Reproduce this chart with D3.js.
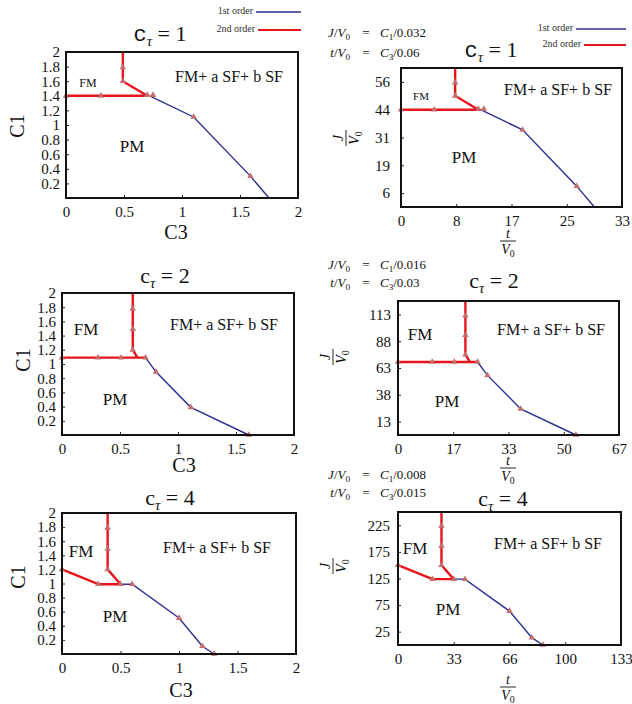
<!DOCTYPE html>
<html>
<head>
<meta charset="utf-8">
<script src="https://cdn.jsdelivr.net/npm/d3@7"></script>
<style>
  body { margin: 0; background: #fff; }
  svg { display: block; }
</style>
</head>
<body>
<svg id="chart" width="632" height="704"></svg>
<script>
// ---------- tick values (model units C3, C1) and their printed labels ----------
const c3Ticks = [0, 0.5, 1, 1.5, 2];
const c3TickText = ["0", "0.5", "1", "1.5", "2"];
const c1Ticks = [0.2, 0.4, 0.6, 0.8, 1, 1.2, 1.4, 1.6, 1.8, 2];
const c1TickText = ["0.2", "0.4", "0.6", "0.8", "1", "1.2", "1.4", "1.6", "1.8", "2"];
const c1RatioTicks = [0.2, 0.6, 1.0, 1.4, 1.8];

const tau1RatioXText = ["0", "8", "17", "25", "33"];
const tau1RatioYText = ["6", "19", "31", "44", "56"];
const tau2RatioXText = ["0", "17", "33", "50", "67"];
const tau2RatioYText = ["13", "38", "63", "88", "113"];
const tau4RatioXText = ["0", "33", "66", "100", "133"];
const tau4RatioYText = ["25", "75", "125", "175", "225"];

// conversion constants: J/V0 = C1/k1, t/V0 = C3/k3
const tau1K = { k1: 0.032, k3: 0.06 };
const tau2K = { k1: 0.016, k3: 0.03 };
const tau4K = { k1: 0.008, k3: 0.015 };

// ---------- phase boundaries, points are [C3, C1] ----------
// c_tau = 1
const tau1Second = [
  [[0.49, 2.0], [0.49, 1.6], [0.70, 1.4]],
  [[0.0, 1.4], [0.72, 1.4]]
];
const tau1First = [[0.72, 1.4], [1.10, 1.11], [1.59, 0.30], [1.75, 0.0]];
const tau1Marks = [[0, 1.4], [0.30, 1.4], [0.70, 1.41], [0.75, 1.41],
                   [0.49, 1.79], [0.49, 1.6], [1.10, 1.11], [1.59, 0.30]];

// c_tau = 2
const tau2Second = [
  [[0.61, 2.0], [0.61, 1.2], [0.65, 1.09]],
  [[0.0, 1.09], [0.72, 1.09]]
];
const tau2First = [[0.72, 1.09], [0.81, 0.89], [1.11, 0.39], [1.61, 0.0]];
const tau2Marks = [[0, 1.09], [0.31, 1.09], [0.51, 1.09], [0.72, 1.09],
                   [0.61, 1.78], [0.61, 1.49], [0.61, 1.2],
                   [0.81, 0.89], [1.11, 0.39], [1.61, 0.0]];

// c_tau = 4
const tau4Second = [
  [[0.39, 2.0], [0.39, 1.2], [0.50, 0.99]],
  [[0.0, 1.2], [0.31, 0.99], [0.50, 0.99]]
];
const tau4First = [[0.50, 0.99], [0.60, 0.99], [1.0, 0.51], [1.2, 0.11], [1.3, 0.0]];
const tau4Marks = [[0, 1.2], [0.31, 0.99], [0.50, 0.99], [0.60, 0.99],
                   [0.39, 1.79], [0.39, 1.49], [0.39, 1.2],
                   [1.0, 0.51], [1.2, 0.11], [1.3, 0.0]];

// ---------- styling ----------
const SERIF = "Liberation Serif, Times New Roman, DejaVu Serif, serif";
const MONO = "Liberation Mono, DejaVu Sans Mono, monospace";
const BLUE = "#2c2f8f";
const RED = "#e8141c";
const MARK = "#c46e6e";

const svg = d3.select("#chart");

// ---------- panel layouts ----------
const panels = [
  { tau: "1", mono: true, frame: { l: 66, r: 298, t: 52, b: 198 },
    xText: c3TickText, yTicks: c1Ticks, yText: c1TickText, yPad: 6,
    second: tau1Second, first: tau1First, marks: tau1Marks,
    title: [160, 41], axisC: { c1: [17, 126], c3: [176, 239] },
    legend: { right: 301, y1: 12, y2: 30, end1: 253, end2: 255 },
    regions: [["FM", 88, 87, 12], ["FM+ a SF+ b SF", 229, 82, 16], ["PM", 132, 152, 17]] },
  { tau: "1", mono: true, frame: { l: 401, r: 622, t: 68, b: 207 }, ...tau1K,
    xText: tau1RatioXText, yTicks: c1RatioTicks, yText: tau1RatioYText, yPad: 11,
    second: tau1Second, first: tau1First, marks: tau1Marks,
    title: [491, 57], ratio: { xf: [508, 241], yf: [346, 138], eq: [37, 57] },
    legend: { right: 626, y1: 29, y2: 45, end1: 573, end2: 581 },
    regions: [["FM", 421, 100, 11], ["FM+ a SF+ b SF", 558, 95, 16], ["PM", 464, 163, 17]] },
  { tau: "2", mono: false, frame: { l: 62, r: 294, t: 293, b: 435 },
    xText: c3TickText, yTicks: c1Ticks, yText: c1TickText, yPad: 6,
    second: tau2Second, first: tau2First, marks: tau2Marks,
    title: [165, 283], axisC: { c1: [23, 360], c3: [184, 472] },
    regions: [["FM", 86, 335, 17], ["FM+ a SF+ b SF", 224, 330, 16], ["PM", 115, 405, 17]] },
  { tau: "2", mono: false, frame: { l: 398, r: 619, t: 301, b: 435 }, ...tau2K,
    xText: tau2RatioXText, yTicks: c1RatioTicks, yText: tau2RatioYText, yPad: 7,
    second: tau2Second, first: tau2First, marks: tau2Marks,
    title: [494, 288], ratio: { xf: [508, 468], yf: [333, 357], eq: [269, 287] },
    regions: [["FM", 420, 340, 17], ["FM+ a SF+ b SF", 551, 335, 16], ["PM", 447, 407, 17]] },
  { tau: "4", mono: false, frame: { l: 62, r: 296, t: 513, b: 654 },
    xText: c3TickText, yTicks: c1Ticks, yText: c1TickText, yPad: 6,
    second: tau4Second, first: tau4First, marks: tau4Marks,
    title: [170, 505], axisC: { c1: [18, 577], c3: [181, 697] },
    regions: [["FM", 81, 557, 17], ["FM+ a SF+ b SF", 217, 553, 16], ["PM", 115, 622, 17]] },
  { tau: "4", mono: false, frame: { l: 398, r: 621, t: 512, b: 645 }, ...tau4K,
    xText: tau4RatioXText, yTicks: c1RatioTicks, yText: tau4RatioYText, yPad: 8,
    second: tau4Second, first: tau4First, marks: tau4Marks,
    title: [503, 506], ratio: { xf: [508, 687], yf: [333, 566], eq: [479, 497] },
    regions: [["FM", 415, 554, 17], ["FM+ a SF+ b SF", 548, 549, 16], ["PM", 448, 615, 17]] }
];

// ---------- text helpers ----------
// parts: [text, kind] where kind is "i" (italic), "s" (subscript) or "" (upright)
function mathText(g, x, y, parts, anchor, size) {
  const t = g.append("text").attr("x", x).attr("y", y)
    .attr("text-anchor", anchor).style("font-family", SERIF)
    .attr("font-size", size).attr("fill", "#111");
  let shift = 0;
  parts.forEach(([s, kind]) => {
    const ts = t.append("tspan").text(s);
    const target = kind === "s" ? 3 : 0;
    if (target !== shift) { ts.attr("dy", target - shift); shift = target; }
    if (kind === "i") ts.attr("font-style", "italic");
    if (kind === "s") ts.attr("font-size", size * 0.7);
  });
  return t;
}

function fraction(g, cx, cy, num, rotate) {
  const f = g.append("g").attr("transform", `translate(${cx},${cy})${rotate ? " rotate(-90)" : ""}`);
  mathText(f, 0, -3, [[num, "i"]], "middle", 14);
  f.append("line").attr("x1", -8).attr("x2", 8).attr("y1", 0).attr("y2", 0)
    .attr("stroke", "#111").attr("stroke-width", 0.9);
  mathText(f, 0, 13, [["V", "i"], ["0", "s"]], "middle", 14);
}

function drawPanel(p) {
  const g = svg.append("g");
  const k1 = p.k1 || 1, k3 = p.k3 || 1;
  const { l, r, t, b } = p.frame;
  const x = d3.scaleLinear().domain([0, 2 / k3]).range([l, r]);
  const y = d3.scaleLinear().domain([0, 2 / k1]).range([b, t]);
  const px = d => x(d[0] / k3), py = d => y(d[1] / k1);
  const line = d3.line().x(px).y(py);

  // axes
  const xAxis = d3.axisBottom(x)
    .tickValues(c3Ticks.map(v => v / k3))
    .tickFormat((d, i) => p.xText[i])
    .tickSizeInner(-3).tickSizeOuter(0).tickPadding(8);
  const yAxis = d3.axisLeft(y)
    .tickValues(p.yTicks.map(v => v / k1))
    .tickFormat((d, i) => p.yText[i])
    .tickSizeInner(-3).tickSizeOuter(0).tickPadding(p.yPad);
  [[xAxis, `translate(0,${b})`], [yAxis, `translate(${l},0)`]].forEach(([ax, tr]) => {
    const a = g.append("g").attr("transform", tr).call(ax);
    a.attr("font-family", null);
    a.select(".domain").remove();
    a.selectAll("line").attr("stroke", "#222");
    a.selectAll("text").style("font-family", SERIF).attr("font-size", 15).attr("fill", "#111");
  });

  // second-order boundaries
  p.second.forEach(seg => {
    g.append("path").attr("d", line(seg)).attr("fill", "none")
      .attr("stroke", RED).attr("stroke-width", 2.4).attr("stroke-linejoin", "round");
  });
  // first-order boundary
  g.append("path").attr("d", line(p.first)).attr("fill", "none")
    .attr("stroke", BLUE).attr("stroke-width", 1.4);
  // computed points
  g.selectAll("path.mark").data(p.marks).join("path").attr("class", "mark")
    .attr("d", d3.symbol(d3.symbolTriangle, 18))
    .attr("transform", d => `translate(${px(d)},${py(d)})`)
    .attr("fill", MARK);

  // frame
  g.append("rect").attr("x", l).attr("y", t).attr("width", r - l).attr("height", b - t)
    .attr("fill", "none").attr("stroke", "#111").attr("stroke-width", 2);

  // title c_tau = n
  const tt = g.append("text").attr("x", p.title[0]).attr("y", p.title[1])
    .attr("text-anchor", "middle").style("font-family", SERIF).attr("font-size", 22).attr("fill", "#111");
  tt.append("tspan").text("c").style("font-family", p.mono ? MONO : SERIF);
  tt.append("tspan").text("τ").attr("font-style", "italic").attr("font-size", 15).attr("dy", 5);
  tt.append("tspan").text(" = " + p.tau).attr("dy", -5);

  // axis titles
  if (p.axisC) {
    g.append("text").attr("transform", `translate(${p.axisC.c1[0]},${p.axisC.c1[1]}) rotate(-90)`)
      .attr("text-anchor", "middle").attr("dy", "0.35em")
      .style("font-family", SERIF).attr("font-size", 20).attr("fill", "#111").text("C1");
    g.append("text").attr("x", p.axisC.c3[0]).attr("y", p.axisC.c3[1])
      .attr("text-anchor", "middle")
      .style("font-family", SERIF).attr("font-size", 20).attr("fill", "#111").text("C3");
  }
  if (p.ratio) {
    fraction(g, p.ratio.xf[0], p.ratio.xf[1], "t", false);
    fraction(g, p.ratio.yf[0], p.ratio.yf[1], "J", true);
    const [y1, y2] = p.ratio.eq;
    const fmt = v => String(v).replace(/^0?\./, "0.");
    mathText(g, 350, y1, [["J", "i"], ["/", ""], ["V", "i"], ["0", "s"]], "end", 13);
    mathText(g, 366, y1, [["=", ""]], "middle", 13);
    mathText(g, 380, y1, [["C", "i"], ["1", "s"], ["/" + fmt(p.k1), ""]], "start", 13);
    mathText(g, 350, y2, [["t", "i"], ["/", ""], ["V", "i"], ["0", "s"]], "end", 13);
    mathText(g, 366, y2, [["=", ""]], "middle", 13);
    mathText(g, 380, y2, [["C", "i"], ["3", "s"], ["/" + fmt(p.k3), ""]], "start", 13);
  }

  // phase region names
  p.regions.forEach(([s, rx, ry, fs]) => {
    g.append("text").attr("x", rx).attr("y", ry).attr("text-anchor", "middle")
      .style("font-family", SERIF).attr("font-size", fs).attr("fill", "#111").text(s);
  });

  // legend
  if (p.legend) {
    const L = p.legend;
    [["1st order", BLUE, L.y1, L.end1, 1.6], ["2nd order", RED, L.y2, L.end2, 2.2]].forEach(([s, c, ly, end, w]) => {
      g.append("text").attr("x", end).attr("y", ly + 2).attr("text-anchor", "end")
        .style("font-family", SERIF).attr("font-size", 10).attr("fill", "#333").text(s);
      g.append("line").attr("x1", end + 3).attr("x2", L.right).attr("y1", ly).attr("y2", ly)
        .attr("stroke", c).attr("stroke-width", w);
    });
  }
}

panels.forEach(drawPanel);
</script>
</body>
</html>
